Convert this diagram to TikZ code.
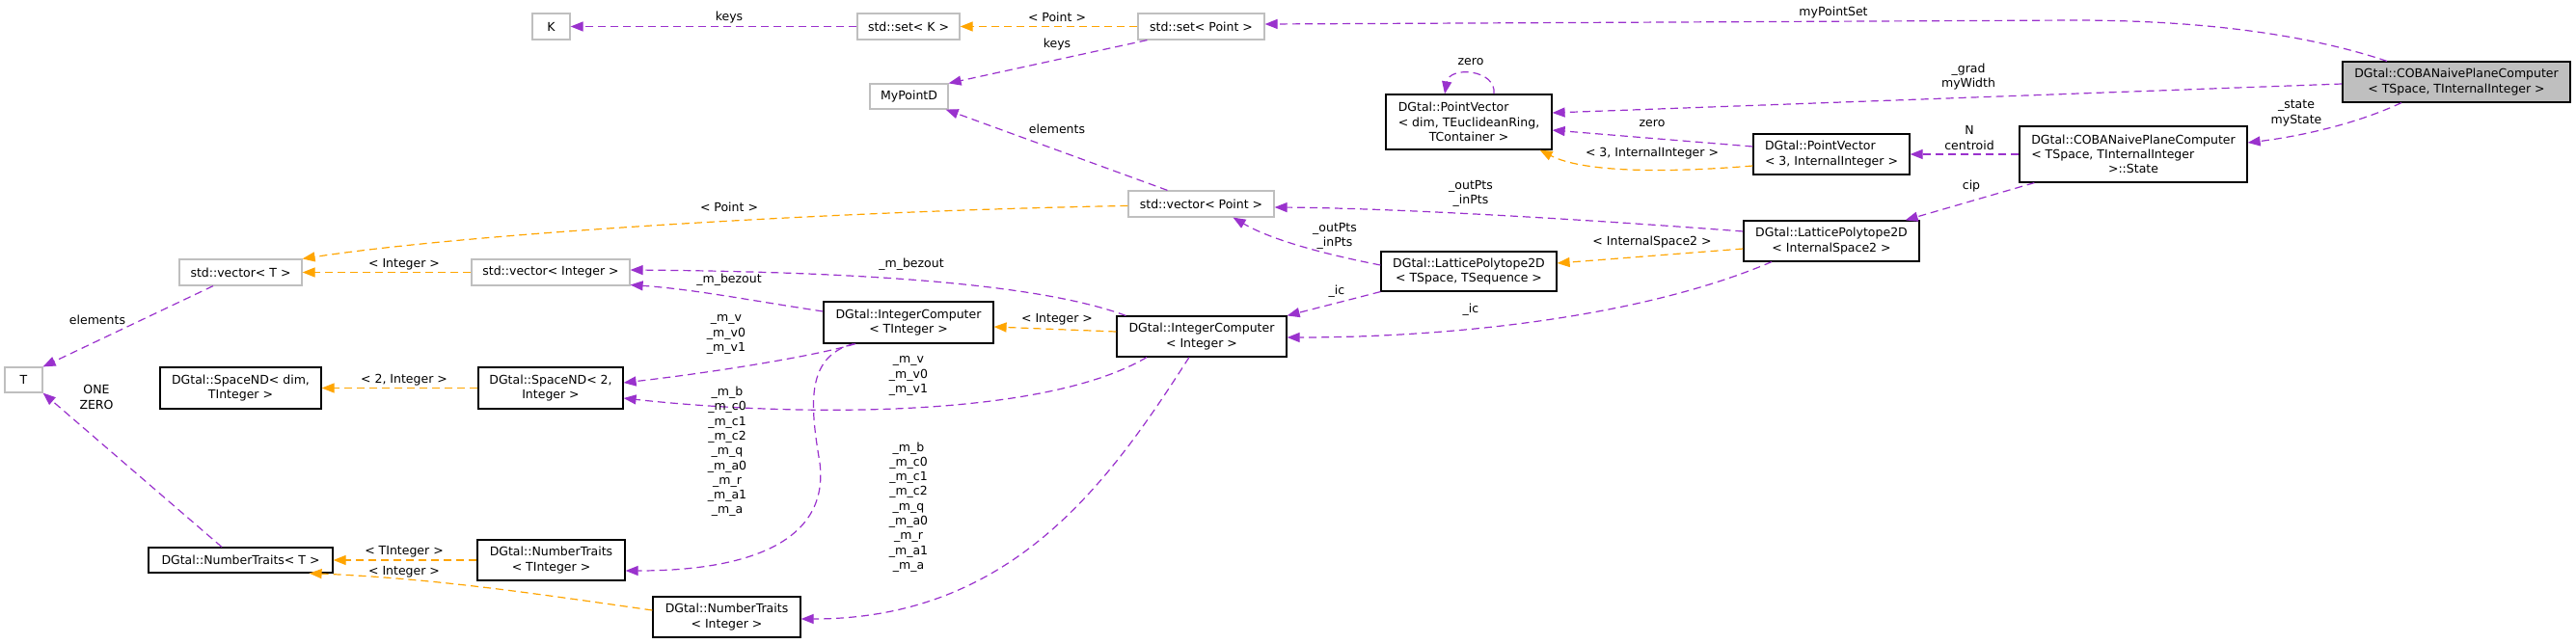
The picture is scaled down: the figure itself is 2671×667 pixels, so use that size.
\documentclass[tikz,border=0pt]{standalone}
\usepackage{fontspec}
\setmainfont{DejaVu Sans}
\usepackage{calc}
\usetikzlibrary{arrows.meta,calc}
\definecolor{usecol}{HTML}{9A32CD}
\definecolor{tplcol}{HTML}{FFA500}
\definecolor{mainfill}{HTML}{BFBFBF}
\definecolor{undoc}{HTML}{BFBFBF}
\begin{document}
\begin{tikzpicture}[x=1pt,y=-1pt,
  every node/.style={font=\fontsize{12.5}{15.3}\selectfont},
  cls/.style={draw=black, line width=1.2pt, fill=white, inner sep=0pt, align=center, text=black},
  ucls/.style={draw=undoc, line width=1.2pt, fill=white, inner sep=0pt, align=center, text=black},
  mcls/.style={cls, fill=mainfill},
  lbl/.style={inner sep=0pt, align=center, text=black},
  uses/.style={draw=usecol, line width=1.2pt, dash pattern=on 8pt off 5pt, -{Triangle[length=13pt,width=10pt,fill=usecol]}},
  tpl/.style={draw=tplcol, line width=1.2pt, dash pattern=on 8pt off 5pt, -{Triangle[length=13pt,width=10pt,fill=tplcol]}}
]
\fill[white] (0,0) rectangle (2671,667);
\useasboundingbox (0,0) rectangle (2671,667);

% nodes
\node[ucls, minimum width=39pt, minimum height=27pt] (K) at (571.5,27.5) {K};
\node[ucls, minimum width=106pt, minimum height=27pt] (setK) at (942,27.5) {std::set< K >};
\node[ucls, minimum width=131pt, minimum height=27pt] (setP) at (1245.5,27.5) {std::set< Point >};
\node[ucls, minimum width=81pt, minimum height=26pt] (mypd) at (942.5,100) {MyPointD};
\node[cls, minimum width=172pt, minimum height=57pt] (pvd) at (1523,126.5) {\makebox[\widthof{< dim, TEuclideanRing,}][l]{DGtal::PointVector}\\< dim, TEuclideanRing,\\TContainer >};
\node[ucls, minimum width=151pt, minimum height=27pt] (vecP) at (1245.5,211.5) {std::vector< Point >};
\node[cls, minimum width=182pt, minimum height=41pt] (lp) at (1523,281.5) {DGtal::LatticePolytope2D\\< TSpace, TSequence >};
\node[cls, minimum width=176pt, minimum height=43pt] (ict) at (942,334.5) {DGtal::IntegerComputer\\< TInteger >};
\node[cls, minimum width=176pt, minimum height=42pt] (ici) at (1246,349) {DGtal::IntegerComputer\\< Integer >};
\node[mcls, minimum width=236pt, minimum height=42pt] (main) at (2547,85) {DGtal::COBANaivePlaneComputer\\< TSpace, TInternalInteger >};
\node[cls, minimum width=162pt, minimum height=42pt] (pv3) at (1899,160) {\makebox[\widthof{< 3, InternalInteger >}][l]{DGtal::PointVector}\\< 3, InternalInteger >};
\node[cls, minimum width=236pt, minimum height=58pt] (state) at (2212,160) {DGtal::COBANaivePlaneComputer\\\makebox[\widthof{DGtal::COBANaivePlaneComputer}][l]{< TSpace, TInternalInteger}\\>::State};
\node[cls, minimum width=182pt, minimum height=42pt] (lp2) at (1899,250) {DGtal::LatticePolytope2D\\< InternalSpace2 >};
\node[ucls, minimum width=127pt, minimum height=27pt] (vecT) at (249.5,282.5) {std::vector< T >};
\node[ucls, minimum width=164pt, minimum height=27pt] (vecI) at (571,282.5) {std::vector< Integer >};
\node[ucls, minimum width=39pt, minimum height=26pt] (T) at (24.5,394) {T};
\node[cls, minimum width=167pt, minimum height=43pt] (sndd) at (249.5,402.5) {DGtal::SpaceND< dim,\\TInteger >};
\node[cls, minimum width=150pt, minimum height=43pt] (snd2) at (571,402.5) {DGtal::SpaceND< 2,\\Integer >};
\node[cls, minimum width=191pt, minimum height=26pt] (ntT) at (249.5,581) {DGtal::NumberTraits< T >};
\node[cls, minimum width=153pt, minimum height=42pt] (ntTI) at (571.5,581) {DGtal::NumberTraits\\< TInteger >};
\node[cls, minimum width=153pt, minimum height=42pt] (ntI) at (753.5,640) {DGtal::NumberTraits\\< Integer >};

% connectors
\draw[uses] (setK.west) -- (K.east);
\draw[tpl] (setP.west) -- (setK.east);
\draw[uses] ($(setP.south west)+(10,0)$) -- (mypd.north east);
\draw[uses] ($(main.north)+(-72,0)$) .. controls (2390,35) and (2280,21) .. (2150,21) -- ($(setP.east)+(0,-2.5)$);
\draw[uses] ($(main.west)+(0,2)$) -- ($(pvd.east)+(0,-9.5)$);
\draw[uses] ($(pvd.north)+(26,0)$) .. controls (1552,72) and (1503,68) .. ($(pvd.north)+(-25,0)$);
\draw[uses] ($(pv3.west)+(0,-8)$) -- ($(pvd.east)+(0,8.5)$);
\draw[tpl] ($(pv3.west)+(0,12)$) .. controls (1720,180) and (1640,178) .. ($(pvd.south east)+(-13,0)$);
\draw[uses] (state.west) -- (pv3.east);
\draw[uses] ($(main.south)+(-57,0)$) .. controls (2440,130) and (2380,142) .. ($(state.east)+(0,-12)$);
\draw[uses] ($(state.south west)+(16,0)$) -- ($(lp2.north east)+(-15,0)$);
\draw[tpl] ($(lp2.west)+(0,8)$) -- ($(lp.east)+(0,-8.5)$);
\draw[uses] ($(lp2.west)+(0,-10)$) .. controls (1650,228) and (1450,216) .. ($(vecP.east)+(0,3.5)$);
\draw[uses] ($(lp.west)+(0,-6.5)$) .. controls (1380,265) and (1320,250) .. ($(vecP.south)+(33,0)$);
\draw[uses] ($(vecP.north)+(-35,0)$) -- ($(mypd.south east)+(-3,0)$);
\draw[tpl] ($(vecP.west)+(0,2)$) .. controls (900,218) and (500,240) .. (vecT.north east);
\draw[tpl] (vecI.west) -- (vecT.east);
\draw[uses] ($(vecT.south)+(-28.5,0)$) -- (T.north east);
\draw[uses] (lp.south west) -- (ici.north east);
\draw[uses] ($(lp2.south)+(-62,0)$) .. controls (1700,330) and (1500,350) .. ($(ici.east)+(0,1)$);
\draw[tpl] ($(ici.west)+(0,-5)$) -- ($(ict.east)+(0,4.5)$);
\draw[uses] ($(ici.north west)+(10,0)$) .. controls (1080,295) and (900,282) .. ($(vecI.east)+(0,-2.5)$);
\draw[uses] ($(ict.west)+(0,-11.5)$) .. controls (780,312) and (720,300) .. ($(vecI.east)+(0,13)$);
\draw[uses] ($(ict.south)+(-55,0)$) .. controls (850,368) and (750,385) .. ($(snd2.east)+(0,-5.5)$);
\draw[uses] ($(ici.south)+(-57,0)$) .. controls (1080,435) and (820,432) .. ($(snd2.east)+(0,10.5)$);
\draw[tpl] (snd2.west) -- (sndd.east);
\draw[uses] ($(ict.south)+(-57,0)$) .. controls (835,370) and (840,420) .. (850,480) .. controls (860,560) and (780,592) .. ($(ntTI.east)+(0,11)$);
\draw[uses] ($(ici.south)+(-13,0)$) .. controls (1150,500) and (1050,642) .. ($(ntI.east)+(0,2)$);
\draw[tpl] (ntTI.west) -- (ntT.east);
\draw[tpl] ($(ntI.west)+(0,-7)$) .. controls (550,615) and (450,600) .. ($(ntT.south east)+(-25,0)$);
\draw[uses] ($(ntT.north)+(-19.5,0)$) -- (T.south east);

% labels
\node[lbl] (lb1) at (756,18) {keys};
\node[lbl] (lb2) at (1096,18) {< Point >};
\node[lbl] (lb3) at (1096,46) {keys};
\node[lbl] (lb4) at (1901,13) {myPointSet};
\node[lbl] (lb5) at (2041,79.5) {\_grad\\myWidth};
\node[lbl] (lb6) at (1525,64) {zero};
\node[lbl] (lb7) at (1713,128) {zero};
\node[lbl] (lb8) at (1713,159) {< 3, InternalInteger >};
\node[lbl] (lb9) at (2042,143) {N\\centroid};
\node[lbl] (lb10) at (2381,117.5) {\_state\\myState};
\node[lbl] (lb11) at (2044,193) {cip};
\node[lbl] (lb12) at (1713,251) {< InternalSpace2 >};
\node[lbl] (lb13) at (1525,201) {\_outPts\\\_inPts};
\node[lbl] (lb14) at (1384,245) {\_outPts\\\_inPts};
\node[lbl] (lb15) at (1096,134) {elements};
\node[lbl] (lb16) at (756,215) {< Point >};
\node[lbl] (lb17) at (419,274) {< Integer >};
\node[lbl] (lb18) at (101,332) {elements};
\node[lbl] (lb19) at (1386,302) {\_ic};
\node[lbl] (lb20) at (1525,321) {\_ic};
\node[lbl] (lb21) at (1096,331) {< Integer >};
\node[lbl] (lb22) at (945,274) {\_m\_bezout};
\node[lbl] (lb23) at (756,290) {\_m\_bezout};
\node[lbl] (lb24) at (753,347) {\_m\_v\\\_m\_v0\\\_m\_v1};
\node[lbl] (lb25) at (942,390) {\_m\_v\\\_m\_v0\\\_m\_v1};
\node[lbl] (lb26) at (419,394) {< 2, Integer >};
\node[lbl] (lb27) at (754,468.5) {\_m\_b\\\_m\_c0\\\_m\_c1\\\_m\_c2\\\_m\_q\\\_m\_a0\\\_m\_r\\\_m\_a1\\\_m\_a};
\node[lbl] (lb28) at (942,526) {\_m\_b\\\_m\_c0\\\_m\_c1\\\_m\_c2\\\_m\_q\\\_m\_a0\\\_m\_r\\\_m\_a1\\\_m\_a};
\node[lbl] (lb29) at (419,572) {< TInteger >};
\node[lbl] (lb30) at (419,593) {< Integer >};
\node[lbl] (lb31) at (100,412) {ONE\\ZERO};
\end{tikzpicture}
\end{document}
